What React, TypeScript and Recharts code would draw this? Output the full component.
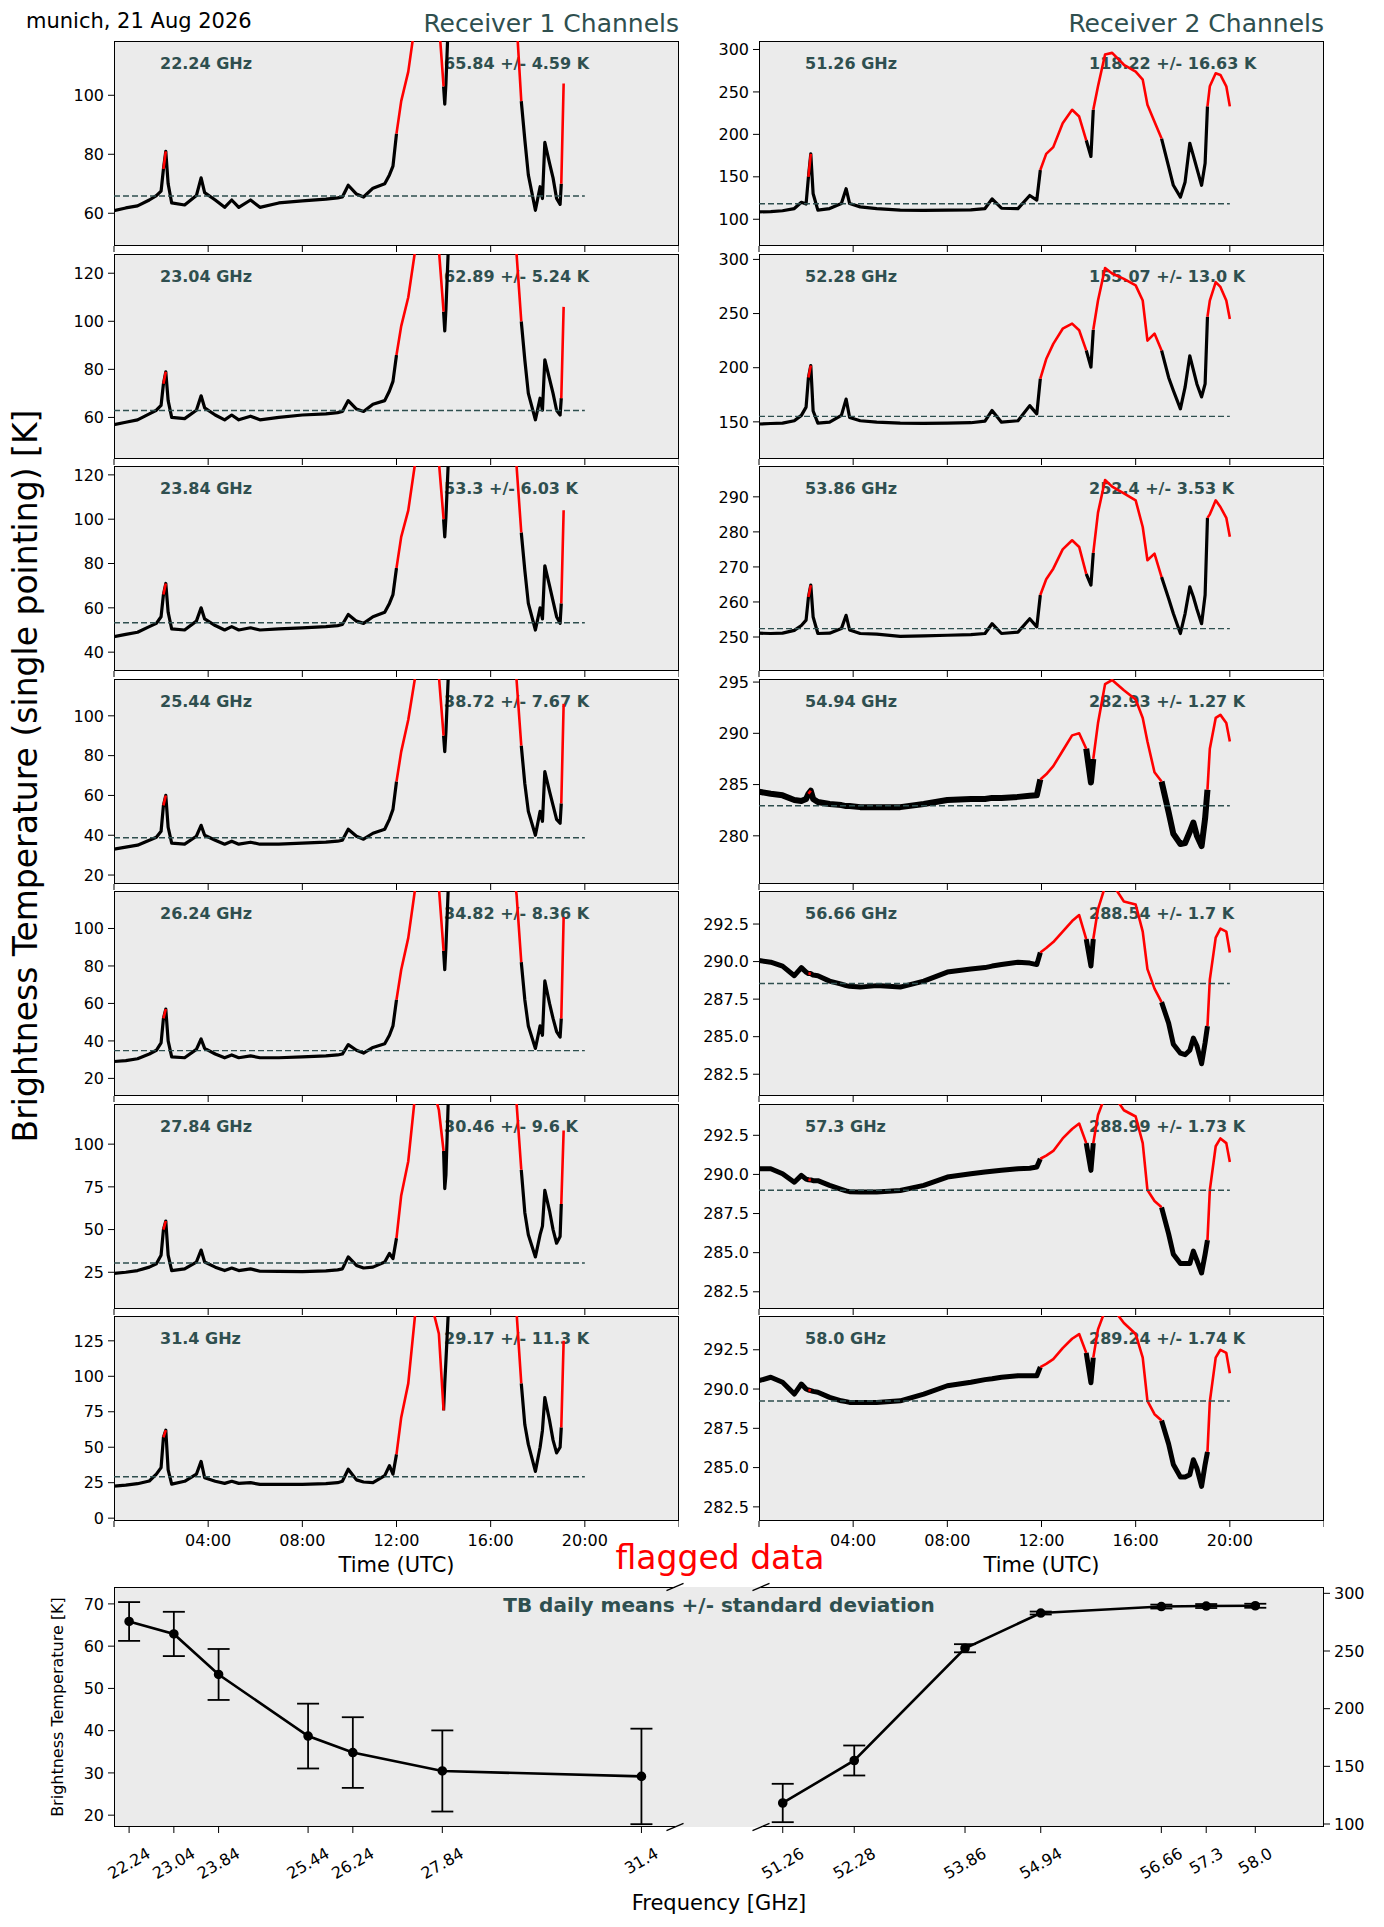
import React from "react";
import { LineChart, Line, XAxis, YAxis, ReferenceLine, ErrorBar } from "recharts";

// sample times (hours UTC)
const HOURS_R1 = [0, 0.5, 1, 1.5, 1.8, 2.0, 2.1, 2.2, 2.3, 2.45, 3.0, 3.5, 3.7, 3.85, 4.3, 4.7, 5.0, 5.3, 5.8, 6.2, 7.0, 8.0, 9.0, 9.5, 9.7, 9.95, 10.3, 10.6, 11.0, 11.5, 11.7, 11.85, 12.0, 12.2, 12.5, 12.8, 13.2, 13.8, 14.0, 14.05, 14.1, 14.2, 14.5, 16.8, 17.1, 17.3, 17.45, 17.6, 17.9, 18.1, 18.2, 18.3, 18.5, 18.65, 18.8, 18.95, 19.0, 19.1];
// 1 = flagged (red)
const FLAG_R1 = [0, 0, 0, 0, 0, 0, 1, 1, 0, 0, 0, 0, 0, 0, 0, 0, 0, 0, 0, 0, 0, 0, 0, 0, 0, 0, 0, 0, 0, 0, 0, 0, 1, 1, 1, 1, 1, 1, 1, 0, 0, 1, 1, 1, 1, 1, 0, 0, 0, 0, 0, 0, 0, 0, 0, 0, 1, 1];

const TB_2224 = [60.9, 61.8, 62.5, 64.5, 66, 67.5, 75, 81, 70, 63.5, 62.8, 66, 72, 67, 64.5, 62, 64.5, 62, 64.5, 62, 63.5, 64.2, 64.8, 65.2, 65.5, 69.5, 66.5, 65.5, 68.5, 70, 73, 76, 87, 98, 108, 125, 140, 125, 103, 97, 104, 125, 140, 140, 125, 98, 85, 73, 61, 69, 65, 84, 77, 72, 65, 63, 70, 104];
const TB_2304 = [57, 58, 59, 61.5, 63, 65, 74, 79, 67, 60, 59.5, 63, 69, 64, 61, 59, 61, 59, 60.5, 59, 60, 61, 61.5, 62, 62.5, 67, 63.5, 62.5, 65.5, 67, 71, 75, 86, 98, 110, 130, 150, 130, 104, 96, 105, 130, 150, 150, 128, 100, 84, 70, 59, 68, 63, 84, 76, 70, 63, 61, 68, 106];
const TB_2384 = [47, 48, 49, 51.5, 53, 56, 66, 71, 58, 50.5, 50, 54, 60, 55, 52, 50, 51.5, 50, 51, 50, 50.5, 51, 51.5, 52, 52.5, 57, 54, 53, 56, 58, 62, 66, 78, 92, 104, 126, 150, 126, 100, 92, 101, 126, 150, 150, 124, 94, 77, 62, 50, 60, 55, 79, 70, 63, 56, 53, 62, 104];
const TB_2544 = [33, 34, 35, 37.5, 39, 42, 55, 60, 44, 36, 35.5, 39.5, 45, 40, 37.5, 35.5, 37, 35.5, 36.5, 35.5, 35.5, 36, 36.5, 37, 37.5, 43, 39.5, 38, 41, 43, 48, 53, 67, 82, 98, 120, 145, 120, 90, 82, 92, 120, 145, 145, 118, 85, 66, 52, 40, 52, 47, 72, 62, 55, 48, 46, 56, 106];
const TB_2624 = [29, 29.5, 30.5, 33, 35, 39, 52, 57, 40, 31.5, 31, 35.5, 41, 36, 33, 31, 32.5, 31, 32, 31, 31, 31.5, 32, 32.5, 33, 38, 35, 33.5, 36.5, 38.5, 43, 48, 62, 78, 95, 122, 145, 122, 88, 78, 90, 122, 145, 145, 118, 82, 62, 48, 36, 48, 43, 72, 60, 52, 45, 42, 52, 106];
const TB_2784 = [24.4, 25, 26, 28, 30, 35, 50, 55, 35, 26, 27, 31, 38, 31, 28, 26, 27.5, 26, 27, 25.6, 25.5, 25.4, 25.8, 26.4, 27, 34, 29, 27.5, 28, 31, 36, 33, 45, 70, 90, 130, 150, 120, 96, 74, 82, 126, 150, 150, 124, 85, 60, 47, 34, 47, 52, 73, 61, 50, 42, 46, 65, 108];
const TB_3140 = [22.6, 23.3, 24.3, 26.2, 31, 35.6, 57, 62, 34, 24, 26, 31, 40, 28.5, 26, 24.5, 26, 24.5, 25, 23.8, 23.8, 23.8, 24.3, 25, 26, 34.5, 27, 25.5, 25, 30, 37, 31, 45, 71, 95, 145, 170, 130, 76, 95, 111, 145, 170, 170, 145, 95, 66, 52, 33, 50, 62, 85, 69, 55, 46, 50, 64, 125];

// sample times (hours UTC)
const HOURS_R2 = [0, 0.5, 1, 1.5, 1.8, 2.0, 2.1, 2.2, 2.3, 2.5, 3.0, 3.5, 3.7, 3.85, 4.3, 5, 6, 7, 8, 9, 9.6, 9.9, 10.3, 11, 11.5, 11.8, 11.95, 12.2, 12.5, 12.9, 13.3, 13.6, 13.9, 14.1, 14.2, 14.4, 14.7, 15.0, 15.5, 16.0, 16.3, 16.5, 16.8, 17.1, 17.4, 17.6, 17.9, 18.1, 18.3, 18.45, 18.6, 18.8, 18.95, 19.05, 19.15, 19.4, 19.6, 19.85, 20.0];
const FLAG_R2 = [0, 0, 0, 0, 0, 0, 1, 1, 0, 0, 0, 0, 0, 0, 0, 0, 0, 0, 0, 0, 0, 0, 0, 0, 0, 0, 1, 1, 1, 1, 1, 1, 1, 0, 1, 1, 1, 1, 1, 1, 1, 1, 1, 1, 0, 0, 0, 0, 0, 0, 0, 0, 0, 1, 1, 1, 1, 1, 1];

const TB_5126 = [108.7, 109, 110, 112.6, 120, 118, 150, 177, 130, 110.7, 112.6, 118.5, 136, 118.5, 114.6, 112.6, 110.7, 110.5, 110.7, 111, 112.6, 124, 113, 112.6, 128, 122.5, 158, 177, 185, 213, 229, 221, 193, 174, 229, 256.6, 294, 296, 282, 274, 264.5, 235, 215, 195, 162, 140, 126, 144, 189.5, 175, 160, 140, 166, 233, 256.6, 272, 270, 256.6, 233];
const TB_5228 = [148, 148.5, 148.8, 151, 156, 163.6, 191, 202, 160, 148.8, 149.7, 156, 171, 154, 151, 149.7, 148.8, 148.6, 148.8, 149.2, 150.6, 160.5, 149.7, 151, 165, 157.4, 190, 208, 222, 236, 240.7, 234.6, 216, 200.6, 235, 262, 292, 287, 282, 276, 262, 225, 231.5, 216, 191, 179, 162, 182, 211, 198, 185, 173, 185, 247, 262, 279, 274.6, 262, 245];
const TB_5386 = [251.1, 251, 251.1, 251.9, 253.3, 254.8, 261.4, 264.8, 255.7, 251, 251.1, 252.4, 256.2, 252, 251, 250.8, 250.2, 250.3, 250.5, 250.7, 251, 253.8, 251, 251.4, 255.2, 252.9, 262, 266.5, 269.5, 275, 277.6, 275.7, 268, 264.8, 274, 285.5, 294.8, 292.9, 291, 289, 281.4, 271.9, 273.8, 267.1, 261, 256.7, 251, 256.7, 264.3, 261.5, 258, 253.8, 262, 284, 285, 289, 287.1, 284, 278.6];
const TB_5494 = [284.3, 284.1, 283.95, 283.5, 283.4, 283.6, 284.1, 284.4, 283.6, 283.3, 283.1, 283, 282.9, 282.9, 282.8, 282.8, 282.8, 283.1, 283.5, 283.6, 283.6, 283.7, 283.7, 283.8, 283.9, 283.95, 285.5, 286, 286.8, 288.3, 289.8, 290, 288.5, 285.2, 287.5, 291, 294.8, 295.2, 294.2, 293.3, 291.5, 289.2, 286.2, 285.3, 282.3, 280.2, 279.2, 279.3, 280.4, 281.3, 280, 279, 281.7, 284.5, 288.5, 291.5, 291.8, 291, 289.2];
const TB_5666 = [290.07, 289.96, 289.7, 289.06, 289.6, 289.3, 289.2, 289.2, 289.1, 289.06, 288.7, 288.5, 288.4, 288.35, 288.3, 288.4, 288.3, 288.7, 289.3, 289.5, 289.6, 289.7, 289.8, 289.96, 289.9, 289.8, 290.6, 290.9, 291.3, 292, 292.7, 293.1, 291.5, 289.7, 291.5, 293.5, 295, 295.2, 294, 293.8, 292, 289.5, 288.2, 287.3, 285.9, 284.5, 283.9, 283.8, 284.1, 284.9, 284.4, 283.2, 284.6, 285.7, 288.8, 291.6, 292.2, 292, 290.6];
const TB_5730 = [290.36, 290.36, 290.04, 289.5, 289.94, 289.7, 289.66, 289.65, 289.6, 289.6, 289.3, 289.05, 288.95, 288.9, 288.87, 288.87, 288.97, 289.3, 289.83, 290.04, 290.15, 290.2, 290.26, 290.36, 290.4, 290.47, 291, 291.2, 291.5, 292.3, 292.9, 293.25, 292, 290.26, 292, 293.8, 295, 295.2, 294.1, 293.7, 292, 289, 288.3, 287.9, 286.2, 284.9, 284.3, 284.3, 284.3, 285.1, 284.5, 283.7, 284.9, 285.8, 289, 291.8, 292.3, 292, 290.8];
const TB_5800 = [290.53, 290.75, 290.43, 289.68, 290.32, 290, 289.94, 289.9, 289.85, 289.8, 289.47, 289.25, 289.2, 289.15, 289.15, 289.15, 289.25, 289.68, 290.21, 290.43, 290.6, 290.65, 290.75, 290.85, 290.85, 290.85, 291.4, 291.6, 291.9, 292.6, 293.2, 293.5, 292.3, 290.4, 292, 293.8, 295, 295.2, 294.2, 293.5, 292, 289.25, 288.4, 288, 286.5, 285.2, 284.4, 284.4, 284.55, 285.5, 284.96, 283.8, 285.2, 286, 289.2, 292, 292.5, 292.3, 291];

const FREQS_R1 = ["22.24", "23.04", "23.84", "25.44", "26.24", "27.84", "31.4"];
const MEANS_R1 = [65.84, 62.89, 53.3, 38.72, 34.82, 30.46, 29.17];
const STDS_R1 = [4.59, 5.24, 6.03, 7.67, 8.36, 9.6, 11.3];
const FREQS_R2 = ["51.26", "52.28", "53.86", "54.94", "56.66", "57.3", "58.0"];
const MEANS_R2 = [118.22, 155.07, 252.4, 282.93, 288.54, 288.99, 289.24];
const STDS_R2 = [16.63, 13.0, 3.53, 1.27, 1.7, 1.73, 1.74];

const SERIES_R1 = [TB_2224, TB_2304, TB_2384, TB_2544, TB_2624, TB_2784, TB_3140];
const SERIES_R2 = [TB_5126, TB_5228, TB_5386, TB_5494, TB_5666, TB_5730, TB_5800];

const TIME_TICKS = [0, 4, 8, 12, 16, 20, 24];
const TICKS_R2_FINE = [282.5, 285, 287.5, 290, 292.5];

// y axis limits per panel
const AXES_R1 = [
  { domain: [48.9, 118.4], ticks: [60, 80, 100] },
  { domain: [42.7, 128], ticks: [60, 80, 100, 120] },
  { domain: [31.5, 124], ticks: [40, 60, 80, 100, 120] },
  { domain: [15.5, 118.5], ticks: [20, 40, 60, 80, 100] },
  { domain: [10.6, 120], ticks: [20, 40, 60, 80, 100] },
  { domain: [3.5, 123.5], ticks: [25, 50, 75, 100] },
  { domain: [-2, 142.5], ticks: [0, 25, 50, 75, 100, 125] },
];
const AXES_R2 = [
  { domain: [68.5, 310], ticks: [100, 150, 200, 250, 300] },
  { domain: [115.7, 305], ticks: [150, 200, 250, 300] },
  { domain: [240.3, 298.8], ticks: [250, 260, 270, 280, 290] },
  { domain: [275.3, 295.3], ticks: [280, 285, 290, 295] },
  { domain: [281.05, 294.7], ticks: TICKS_R2_FINE, dec: 1 },
  { domain: [281.4, 294.5], ticks: TICKS_R2_FINE, dec: 1 },
  { domain: [281.6, 294.65], ticks: TICKS_R2_FINE, dec: 1 },
];
const LINE_W_R2 = [3.2, 3.2, 3.2, 6, 5, 5, 5];

const SLATE = "#2f4f4f";
const PANEL_BG = "#ebebeb";
const TOP0 = 41;
const PITCH = 212.5;
const PANEL_H = 205;
const COL_LEFT = [114, 759];
const PANEL_W = [565, 565];
const YW = 70;
const PAD = 12; // room above each plot for the top tick label

const fmtStd = (v: number) => (Number.isInteger(v) ? v.toFixed(1) : String(v));
const hhmm = (h: number) => (h === 0 || h === 24 ? "" : `${String(h).padStart(2, "0")}:00`);

function Txt({ x, y, children, size = 16, color = "#000", bold = false, anchor = "start", rotate = 0 }: any) {
  const tx = anchor === "middle" ? "-50%" : anchor === "end" ? "-100%" : "0";
  return (
    <div
      style={{
        position: "absolute",
        left: x,
        top: y,
        fontSize: size,
        lineHeight: 1,
        color,
        fontWeight: bold ? "bold" : "normal",
        whiteSpace: "nowrap",
        transform: `translate(${tx}, -50%)${rotate ? ` rotate(${rotate}deg)` : ""}`,
        transformOrigin: anchor === "middle" ? "50% 50%" : "0 50%",
      }}
    >
      {children}
    </div>
  );
}

function TimePanel({ hours, flags, values, axis, mean, std, freq, row, col, lw }: any) {
  const data = hours.map((h: number, i: number) => {
    const nearGood = flags[i] === 0 || flags[i - 1] === 0 || flags[i + 1] === 0;
    return { h, ok: nearGood ? values[i] : null, bad: flags[i] === 1 ? values[i] : null };
  });
  const left = COL_LEFT[col];
  const w = PANEL_W[col];
  const top = TOP0 + row * PITCH;
  const last = row === 6;
  const xh = last ? 34 : 8;
  return (
    <>
      <div
        style={{
          position: "absolute",
          left,
          top,
          width: w,
          height: PANEL_H,
          background: PANEL_BG,
          border: "1px solid #000",
          boxSizing: "border-box",
        }}
      />
      <Txt x={left + 46} y={top + 23} bold color={SLATE}>{`${freq} GHz`}</Txt>
      <Txt x={left + 330} y={top + 23} bold color={SLATE}>{`${mean} +/- ${fmtStd(std)} K`}</Txt>
      <div style={{ position: "absolute", left: left - YW, top: top - PAD }}>
        <LineChart width={w + YW} height={PANEL_H + xh + PAD} data={data} margin={{ top: PAD, right: 0, bottom: 0, left: 0 }}>
          <XAxis
            dataKey="h"
            type="number"
            domain={[0, 24]}
            ticks={TIME_TICKS}
            interval={0}
            allowDataOverflow
            height={xh}
            axisLine={false}
            tickSize={6}
            tickMargin={8}
            tickLine={{ stroke: "#000" }}
            tick={{ fill: "#000", fontSize: 16 }}
            tickFormatter={(v: number) => (last ? hhmm(v) : "")}
          />
          <YAxis
            type="number"
            domain={axis.domain}
            ticks={axis.ticks}
            interval={0}
            allowDataOverflow
            width={YW}
            axisLine={false}
            tickSize={6}
            tickMargin={4}
            tickLine={{ stroke: "#000" }}
            tick={{ fill: "#000", fontSize: 16 }}
            tickFormatter={(v: number) => (axis.dec ? v.toFixed(axis.dec) : String(v))}
          />
          <Line dataKey="ok" stroke="#000" strokeWidth={lw} dot={false} isAnimationActive={false} strokeLinejoin="round" />
          <Line dataKey="bad" stroke="#ff0000" strokeWidth={2.6} dot={false} isAnimationActive={false} strokeLinejoin="round" />
          <ReferenceLine
            segment={[{ x: 0, y: mean }, { x: 20, y: mean }]}
            stroke={SLATE}
            strokeWidth={1.4}
            strokeDasharray="6 3"
          />
        </LineChart>
      </div>
    </>
  );
}

function FreqTick({ x, y, payload, labels }: any) {
  const label = labels.find((s: string) => parseFloat(s) === payload.value) ?? String(payload.value);
  const w = label.split("").reduce((a: number, c: string) => a + (c === "." ? 5.1 : 10.2), 0);
  const cy = y + 10 + (w * 0.5 + 16 * 0.866) / 2;
  return (
    <text x={x} y={cy} textAnchor="middle" dominantBaseline="central" fontSize={16} fill="#000" transform={`rotate(-30, ${x}, ${cy})`}>
      {label}
    </text>
  );
}

const BOT_TOP = 1587;
const BOT_H = 240;
const BL = { left: 114, w: 561 };
const BR = { left: 761, w: 563 };
const SIDE = 30; // spare room for rotated labels next to the break

function MeansChart({ freqs, means, stds, right }: any) {
  const data = freqs.map((f: string, i: number) => ({ f: parseFloat(f), tb: means[i], err: stds[i] }));
  const box = right ? BR : BL;
  const xDomain = right ? [50.95, 58.98] : [21.97, 32.0];
  const yDomain = right ? [97.4, 305.5] : [17.2, 74];
  const yTicks = right ? [100, 150, 200, 250, 300] : [20, 30, 40, 50, 60, 70];
  const yw = 60;
  const margin = right
    ? { top: PAD, right: 0, bottom: 0, left: SIDE }
    : { top: PAD, right: SIDE, bottom: 0, left: 0 };
  return (
    <div style={{ position: "absolute", left: right ? box.left - SIDE : box.left - yw, top: BOT_TOP - PAD }}>
      <LineChart width={box.w + yw + SIDE} height={BOT_H + 80 + PAD} data={data} margin={margin}>
        <XAxis
          dataKey="f"
          type="number"
          domain={xDomain}
          ticks={data.map((d: any) => d.f)}
          interval={0}
          allowDataOverflow
          height={80}
          axisLine={false}
          tickSize={6}
          tickMargin={2}
          tickLine={{ stroke: "#000" }}
          tick={<FreqTick labels={freqs} />}
        />
        <YAxis
          type="number"
          orientation={right ? "right" : "left"}
          domain={yDomain}
          ticks={yTicks}
          interval={0}
          allowDataOverflow
          width={yw}
          axisLine={false}
          tickSize={6}
          tickMargin={4}
          tickLine={{ stroke: "#000" }}
          tick={{ fill: "#000", fontSize: 16 }}
        />
        <Line
          dataKey="tb"
          stroke="#000"
          strokeWidth={2.6}
          dot={{ r: 3.5, fill: "#000", stroke: "#000" }}
          isAnimationActive={false}
        >
          <ErrorBar dataKey="err" width={11} stroke="#000" strokeWidth={1.8} direction="y" />
        </Line>
      </LineChart>
    </div>
  );
}

export default function App() {
  const breakX = [BL.left + BL.w, BR.left];
  return (
    <div
      style={{
        position: "absolute",
        left: 0,
        top: 0,
        width: 1384,
        height: 1927,
        background: "#fff",
        overflow: "hidden",
        fontFamily: '"DejaVu Sans", sans-serif',
      }}
    >
      <Txt x={26} y={21} size={21}>munich, 21 Aug 2026</Txt>
      <Txt x={COL_LEFT[0] + PANEL_W[0]} y={23} size={25} color={SLATE} anchor="end">Receiver 1 Channels</Txt>
      <Txt x={COL_LEFT[1] + PANEL_W[1]} y={23} size={25} color={SLATE} anchor="end">Receiver 2 Channels</Txt>

      {SERIES_R1.map((vals, i) => (
        <TimePanel key={`a${i}`} hours={HOURS_R1} flags={FLAG_R1} values={vals} axis={AXES_R1[i]} mean={MEANS_R1[i]} std={STDS_R1[i]} freq={FREQS_R1[i]} row={i} col={0} lw={3.2} />
      ))}
      {SERIES_R2.map((vals, i) => (
        <TimePanel key={`b${i}`} hours={HOURS_R2} flags={FLAG_R2} values={vals} axis={AXES_R2[i]} mean={MEANS_R2[i]} std={STDS_R2[i]} freq={FREQS_R2[i]} row={i} col={1} lw={LINE_W_R2[i]} />
      ))}

      <Txt x={25} y={776} size={33} anchor="middle" rotate={-90}>Brightness Temperature (single pointing) [K]</Txt>
      <Txt x={COL_LEFT[0] + PANEL_W[0] / 2} y={1565} size={21} anchor="middle">Time (UTC)</Txt>
      <Txt x={COL_LEFT[1] + PANEL_W[1] / 2} y={1565} size={21} anchor="middle">Time (UTC)</Txt>

      {/* bottom panel: daily means */}
      <div style={{ position: "absolute", left: BL.left, top: BOT_TOP, width: BR.left + BR.w - BL.left, height: BOT_H, background: PANEL_BG }} />
      <div style={{ position: "absolute", left: BL.left, top: BOT_TOP, width: BL.w, height: BOT_H, borderTop: "1px solid #000", borderBottom: "1px solid #000", borderLeft: "1px solid #000", boxSizing: "border-box" }} />
      <div style={{ position: "absolute", left: BR.left, top: BOT_TOP, width: BR.w, height: BOT_H, borderTop: "1px solid #000", borderBottom: "1px solid #000", borderRight: "1px solid #000", boxSizing: "border-box" }} />
      <Txt x={719} y={1605} size={20} bold color={SLATE} anchor="middle">TB daily means +/- standard deviation</Txt>
      <MeansChart freqs={FREQS_R1} means={MEANS_R1} stds={STDS_R1} />
      <MeansChart freqs={FREQS_R2} means={MEANS_R2} stds={STDS_R2} right />
      <svg style={{ position: "absolute", left: 0, top: 0, pointerEvents: "none" }} width={1384} height={1927}>
        {breakX.map((bx) =>
          [BOT_TOP, BOT_TOP + BOT_H].map((by) => (
            <line key={`${bx}-${by}`} x1={bx - 8.5} y1={by + 3.6} x2={bx + 8.5} y2={by - 3.6} stroke="#000" strokeWidth={1.3} />
          ))
        )}
      </svg>
      <Txt x={58} y={BOT_TOP + BOT_H / 2} size={16} anchor="middle" rotate={-90}>Brightness Temperature [K]</Txt>
      <Txt x={719} y={1903} size={21} anchor="middle">Frequency [GHz]</Txt>
      <Txt x={720} y={1557} size={33} color="#ff0000" anchor="middle">flagged data</Txt>
    </div>
  );
}
